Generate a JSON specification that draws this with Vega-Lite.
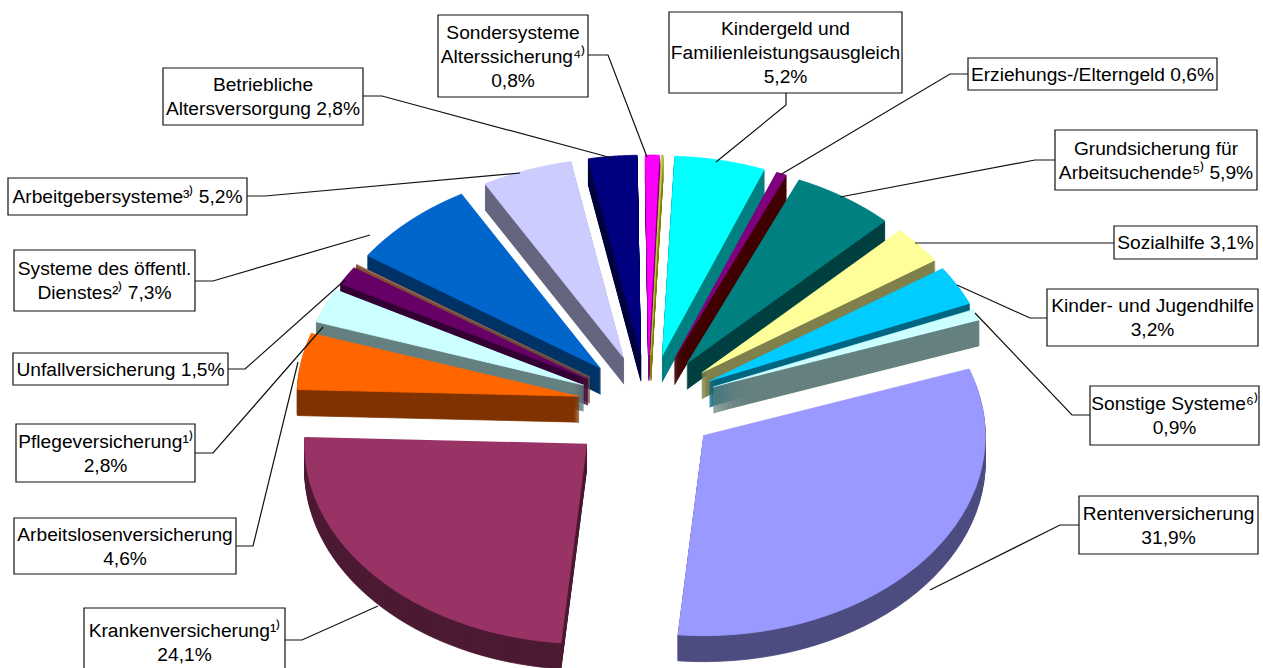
{"$schema":"https://vega.github.io/schema/vega-lite/v6.json","autosize":{"type":"none"},"padding":0,"width":1263,"height":668,"background":"white","config":{"view":{"stroke":null}},"layer":[{"data":{"values":[{"name":"Betriebliche Altersversorgung","share":2.8,"seq":8,"explode":1},{"name":"Sondersysteme Alterssicherung","share":0.8,"seq":9,"explode":1},{"name":"ohne Angabe A","share":0.1,"seq":10,"explode":1},{"name":"Kindergeld und Familienleistungsausgleich","share":5.2,"seq":11,"explode":1},{"name":"Arbeitgebersysteme","share":5.2,"seq":7,"explode":1},{"name":"Erziehungs-/Elterngeld","share":0.6,"seq":12,"explode":1},{"name":"Systeme des öffentl. Dienstes","share":7.3,"seq":6,"explode":1},{"name":"Grundsicherung für Arbeitsuchende","share":5.9,"seq":13,"explode":1},{"name":"ohne Angabe B","share":0.1,"seq":5.5,"explode":1},{"name":"Unfallversicherung","share":1.5,"seq":5,"explode":1},{"name":"Sozialhilfe","share":3.1,"seq":14,"explode":1},{"name":"Pflegeversicherung","share":2.8,"seq":4,"explode":1},{"name":"Kinder- und Jugendhilfe","share":3.2,"seq":15,"explode":1},{"name":"Arbeitslosenversicherung","share":4.6,"seq":3,"explode":1},{"name":"Sonstige Systeme","share":0.9,"seq":16,"explode":1},{"name":"Rentenversicherung","share":31.9,"seq":1,"explode":1},{"name":"Krankenversicherung","share":24.1,"seq":2,"explode":1.17}]},"transform":[{"window":[{"op":"sum","field":"share","as":"cum"}],"sort":[{"field":"seq","order":"ascending"}]},{"joinaggregate":[{"op":"sum","field":"share","as":"total"}]},{"calculate":"(70.5+datum.cum/datum.total*360)*PI/180","as":"t1"},{"calculate":"datum.t1-datum.share/datum.total*2*PI","as":"t0"},{"calculate":"(datum.t0+datum.t1)/2","as":"tm"},{"calculate":"sequence(0,27)","as":"layerStep"},{"flatten":["layerStep"]},{"calculate":"sequence(0,42)","as":"vertex"},{"flatten":["vertex"]},{"calculate":"datum.layerStep<26?26-datum.layerStep:0","as":"drop"},{"calculate":"datum.name+(datum.layerStep<26?'|side':'|top')","as":"tone"},{"calculate":"datum.name+'|'+datum.layerStep","as":"piece"},{"calculate":"datum.t0+(datum.vertex-1)/40*(datum.t1-datum.t0)","as":"a"},{"calculate":"648+70*datum.explode*sin(datum.tm)+(datum.vertex==0?0:282*sin(datum.a))","as":"px"},{"calculate":"405-50*datum.explode*cos(datum.tm)+(datum.vertex==0?0:-200*cos(datum.a))+datum.drop","as":"py"}],"mark":{"type":"line","filled":true,"strokeWidth":0.8,"strokeJoin":"round","interpolate":"linear"},"encoding":{"x":{"field":"px","type":"quantitative","scale":{"domain":[0,1263]},"axis":null},"y":{"field":"py","type":"quantitative","scale":{"domain":[668,0]},"axis":null},"detail":{"field":"piece"},"order":{"field":"vertex"},"stroke":{"field":"tone","type":"nominal","legend":null,"scale":{"domain":["Betriebliche Altersversorgung|top","Betriebliche Altersversorgung|side","Sondersysteme Alterssicherung|top","Sondersysteme Alterssicherung|side","ohne Angabe A|top","ohne Angabe A|side","Kindergeld und Familienleistungsausgleich|top","Kindergeld und Familienleistungsausgleich|side","Arbeitgebersysteme|top","Arbeitgebersysteme|side","Erziehungs-/Elterngeld|top","Erziehungs-/Elterngeld|side","Systeme des öffentl. Dienstes|top","Systeme des öffentl. Dienstes|side","Grundsicherung für Arbeitsuchende|top","Grundsicherung für Arbeitsuchende|side","ohne Angabe B|top","ohne Angabe B|side","Unfallversicherung|top","Unfallversicherung|side","Sozialhilfe|top","Sozialhilfe|side","Pflegeversicherung|top","Pflegeversicherung|side","Kinder- und Jugendhilfe|top","Kinder- und Jugendhilfe|side","Arbeitslosenversicherung|top","Arbeitslosenversicherung|side","Sonstige Systeme|top","Sonstige Systeme|side","Rentenversicherung|top","Rentenversicherung|side","Krankenversicherung|top","Krankenversicherung|side"],"range":["#000080","#000040","#ff00ff","#800080","#c8c850","#808000","#00ffff","#008080","#ccccff","#666680","#800080","#400000","#0066cc","#003366","#008080","#004040","#996655","#804d33","#660066","#330033","#ffff99","#80804d","#ccffff","#668080","#00ccff","#006680","#ff6600","#803300","#ccffff","#668080","#9999ff","#4d4d80","#993366","#4d1a33"]}},"fill":{"field":"tone","type":"nominal","legend":null,"scale":{"domain":["Betriebliche Altersversorgung|top","Betriebliche Altersversorgung|side","Sondersysteme Alterssicherung|top","Sondersysteme Alterssicherung|side","ohne Angabe A|top","ohne Angabe A|side","Kindergeld und Familienleistungsausgleich|top","Kindergeld und Familienleistungsausgleich|side","Arbeitgebersysteme|top","Arbeitgebersysteme|side","Erziehungs-/Elterngeld|top","Erziehungs-/Elterngeld|side","Systeme des öffentl. Dienstes|top","Systeme des öffentl. Dienstes|side","Grundsicherung für Arbeitsuchende|top","Grundsicherung für Arbeitsuchende|side","ohne Angabe B|top","ohne Angabe B|side","Unfallversicherung|top","Unfallversicherung|side","Sozialhilfe|top","Sozialhilfe|side","Pflegeversicherung|top","Pflegeversicherung|side","Kinder- und Jugendhilfe|top","Kinder- und Jugendhilfe|side","Arbeitslosenversicherung|top","Arbeitslosenversicherung|side","Sonstige Systeme|top","Sonstige Systeme|side","Rentenversicherung|top","Rentenversicherung|side","Krankenversicherung|top","Krankenversicherung|side"],"range":["#000080","#000040","#ff00ff","#800080","#c8c850","#808000","#00ffff","#008080","#ccccff","#666680","#800080","#400000","#0066cc","#003366","#008080","#004040","#996655","#804d33","#660066","#330033","#ffff99","#80804d","#ccffff","#668080","#00ccff","#006680","#ff6600","#803300","#ccffff","#668080","#9999ff","#4d4d80","#993366","#4d1a33"]}}}},{"data":{"values":[{"name":"Sondersysteme","step":0,"px":588,"py":55},{"name":"Sondersysteme","step":1,"px":608,"py":55},{"name":"Sondersysteme","step":2,"px":647,"py":157},{"name":"Kindergeld","step":0,"px":786,"py":93},{"name":"Kindergeld","step":1,"px":786,"py":105},{"name":"Kindergeld","step":2,"px":716,"py":162},{"name":"Erziehung","step":0,"px":968,"py":74},{"name":"Erziehung","step":1,"px":950,"py":74},{"name":"Erziehung","step":2,"px":780,"py":175},{"name":"Grund","step":0,"px":1055,"py":160},{"name":"Grund","step":1,"px":1035,"py":160},{"name":"Grund","step":2,"px":840,"py":197},{"name":"Sozial","step":0,"px":1114,"py":243},{"name":"Sozial","step":1,"px":1095,"py":243},{"name":"Sozial","step":2,"px":915,"py":243},{"name":"Kinder","step":0,"px":1047,"py":318},{"name":"Kinder","step":1,"px":1030,"py":318},{"name":"Kinder","step":2,"px":957,"py":285},{"name":"Sonstige","step":0,"px":1090,"py":415},{"name":"Sonstige","step":1,"px":1072,"py":415},{"name":"Sonstige","step":2,"px":975,"py":313},{"name":"Renten","step":0,"px":1079,"py":525},{"name":"Renten","step":1,"px":1060,"py":525},{"name":"Renten","step":2,"px":930,"py":590},{"name":"Kranken","step":0,"px":285,"py":640},{"name":"Kranken","step":1,"px":302,"py":640},{"name":"Kranken","step":2,"px":378,"py":606},{"name":"Arbeitslos","step":0,"px":236,"py":546},{"name":"Arbeitslos","step":1,"px":253,"py":546},{"name":"Arbeitslos","step":2,"px":298,"py":362},{"name":"Pflege","step":0,"px":195,"py":453},{"name":"Pflege","step":1,"px":213,"py":453},{"name":"Pflege","step":2,"px":323,"py":327},{"name":"Unfall","step":0,"px":228,"py":369},{"name":"Unfall","step":1,"px":245,"py":369},{"name":"Unfall","step":2,"px":345,"py":280},{"name":"Oeffentl","step":0,"px":195,"py":281},{"name":"Oeffentl","step":1,"px":213,"py":281},{"name":"Oeffentl","step":2,"px":370,"py":235},{"name":"Arbeitgeber","step":0,"px":247,"py":196},{"name":"Arbeitgeber","step":1,"px":265,"py":196},{"name":"Arbeitgeber","step":2,"px":520,"py":173},{"name":"Betrieb","step":0,"px":363,"py":96},{"name":"Betrieb","step":1,"px":382,"py":96},{"name":"Betrieb","step":2,"px":612,"py":158}]},"mark":{"type":"line","color":"#111111","strokeWidth":1.2},"encoding":{"x":{"field":"px","type":"quantitative","scale":{"domain":[0,1263]},"axis":null},"y":{"field":"py","type":"quantitative","scale":{"domain":[668,0]},"axis":null},"detail":{"field":"name"},"order":{"field":"step"}}},{"data":{"name":"labels","values":[{"label":"Sondersysteme\nAlterssicherung⁴⁾\n0,8%","x0":438,"x1":588,"y0":15,"y1":97},{"label":"Kindergeld und\nFamilienleistungsausgleich\n5,2%","x0":669,"x1":902,"y0":12,"y1":93},{"label":"Erziehungs-/Elterngeld 0,6%","x0":968,"x1":1217,"y0":58,"y1":90},{"label":"Grundsicherung für\nArbeitsuchende⁵⁾ 5,9%","x0":1055,"x1":1257,"y0":130,"y1":190},{"label":"Sozialhilfe 3,1%","x0":1114,"x1":1257,"y0":226,"y1":259},{"label":"Kinder- und Jugendhilfe\n3,2%","x0":1047,"x1":1258,"y0":289,"y1":346},{"label":"Sonstige Systeme⁶⁾\n0,9%","x0":1090,"x1":1259,"y0":386,"y1":445},{"label":"Rentenversicherung\n31,9%","x0":1079,"x1":1258,"y0":496,"y1":554},{"label":"Krankenversicherung¹⁾\n24,1%","x0":84,"x1":285,"y0":608,"y1":676},{"label":"Arbeitslosenversicherung\n4,6%","x0":14,"x1":236,"y0":518,"y1":574},{"label":"Pflegeversicherung¹⁾\n2,8%","x0":16,"x1":195,"y0":424,"y1":482},{"label":"Unfallversicherung 1,5%","x0":13,"x1":228,"y0":353,"y1":385},{"label":"Systeme des öffentl.\nDienstes²⁾ 7,3%","x0":14,"x1":195,"y0":250,"y1":311},{"label":"Arbeitgebersysteme³⁾ 5,2%","x0":8,"x1":247,"y0":178,"y1":215},{"label":"Betriebliche\nAltersversorgung 2,8%","x0":163,"x1":363,"y0":68,"y1":125}]},"mark":{"type":"rect","fill":"white","stroke":"#111111","strokeWidth":1.2},"encoding":{"x":{"field":"x0","type":"quantitative","scale":{"domain":[0,1263]},"axis":null},"x2":{"field":"x1"},"y":{"field":"y0","type":"quantitative","scale":{"domain":[668,0]},"axis":null},"y2":{"field":"y1"}}},{"data":{"name":"labels"},"transform":[{"calculate":"(datum.x0+datum.x1)/2","as":"cx"},{"calculate":"(datum.y0+datum.y1)/2+0.5-(length(split(datum.label,'\\n'))-1)*12","as":"cy"}],"mark":{"type":"text","font":"Liberation Sans","fontSize":19.2,"lineHeight":24,"lineBreak":"\n","align":"center","baseline":"middle","color":"#000000"},"encoding":{"x":{"field":"cx","type":"quantitative","scale":{"domain":[0,1263]},"axis":null},"y":{"field":"cy","type":"quantitative","scale":{"domain":[668,0]},"axis":null},"text":{"field":"label"}}}]}
